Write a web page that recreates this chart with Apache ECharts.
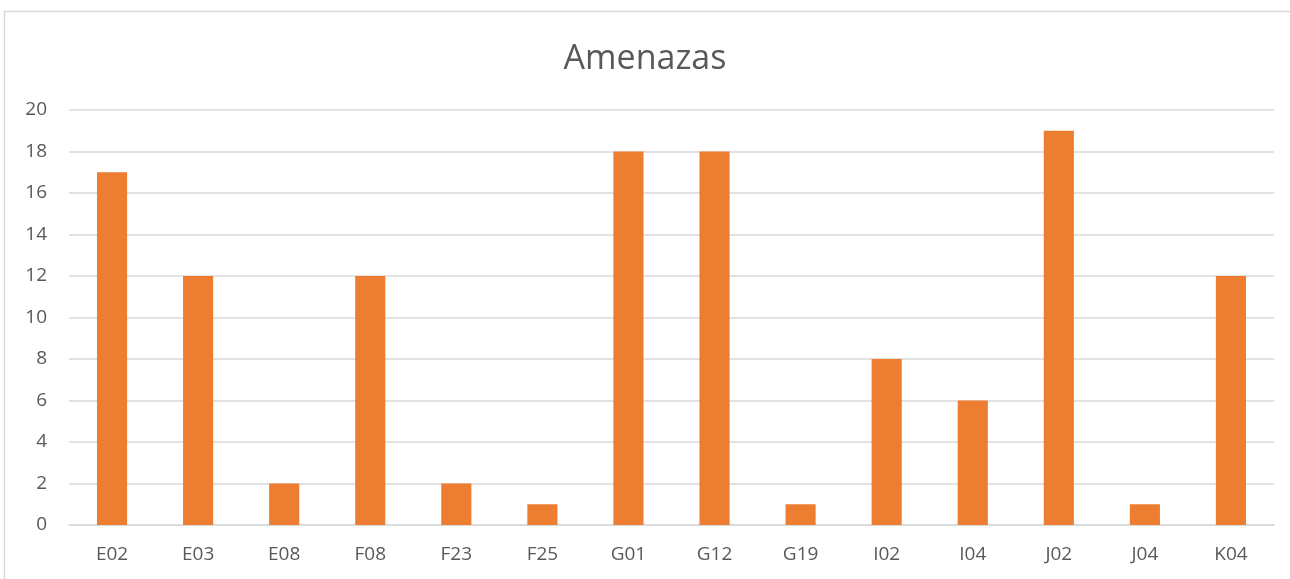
<!DOCTYPE html>
<html>
<head>
<meta charset="utf-8">
<script src="https://cdn.jsdelivr.net/npm/echarts@6/dist/echarts.min.js"></script>
<style>
  html, body { margin: 0; padding: 0; background: #fff; }
  #chart { width: 1290px; height: 579px; }
</style>
</head>
<body>
<div id="chart"></div>
<script>
// chart data
const categories = ['E02', 'E03', 'E08', 'F08', 'F23', 'F25', 'G01', 'G12', 'G19', 'I02', 'I04', 'J02', 'J04', 'K04'];
const amenazas = [17, 12, 2, 12, 2, 1, 18, 18, 1, 8, 6, 19, 1, 12];

const chart = echarts.init(document.getElementById('chart'));

const option = {
  animation: false,
  backgroundColor: '#fff',
  title: {
    text: 'Amenazas',
    left: 'center',
    top: 37,
    textStyle: {
      fontFamily: 'Open Sans',
      fontSize: 34,
      fontWeight: 'normal',
      color: '#595959'
    }
  },
  // outer chart-area border
  graphic: [{
    type: 'rect',
    shape: { x: 4.5, y: 11.5, width: 1300, height: 600 },
    style: { fill: 'none', stroke: '#d9d9d9', lineWidth: 1.5 },
    silent: true
  }],
  grid: {
    left: 69,
    right: 16,
    top: 110,
    bottom: 54
  },
  xAxis: {
    type: 'category',
    data: categories,
    axisTick: { show: false },
    axisLine: { lineStyle: { color: '#d9d9d9', width: 1.5 } },
    axisLabel: {
      fontFamily: 'Open Sans',
      fontSize: 19,
      color: '#595959',
      margin: 20
    }
  },
  yAxis: {
    type: 'value',
    min: 0,
    max: 20,
    interval: 2,
    axisLine: { show: false },
    axisTick: { show: false },
    splitLine: { lineStyle: { color: '#d9d9d9', width: 1.5 } },
    axisLabel: {
      fontFamily: 'Open Sans',
      fontSize: 19,
      color: '#595959',
      margin: 22
    }
  },
  series: [{
    name: 'Amenazas',
    type: 'bar',
    data: amenazas,
    barWidth: '35%',
    itemStyle: { color: '#ED7D31' }
  }]
};

chart.setOption(option);
</script>
</body>
</html>
